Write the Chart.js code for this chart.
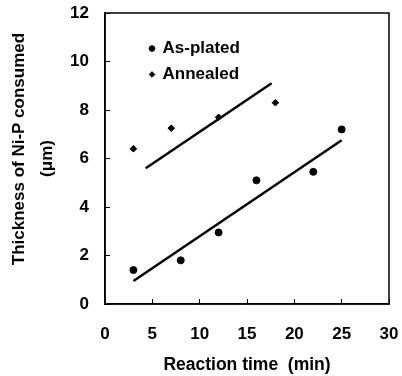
<!DOCTYPE html>
<html lang="en">
<head>
    <meta charset="UTF-8">
    <title>Thickness of Ni-P consumed vs reaction time</title>
    <script src="https://cdn.jsdelivr.net/npm/chart.js"></script>
    <style>
        body {
            margin: 0;
            background-color: #ffffff;
        }
    </style>
</head>
<body>
    <canvas id="thicknessChart" width="402" height="376"></canvas>

    <script>
        // measured points
        const timeAsPlated = [3, 8, 12, 16, 22, 25];
        const thickAsPlated = [1.4, 1.8, 2.95, 5.1, 5.45, 7.2];
        const timeAnnealed = [3, 7, 12, 18];
        const thickAnnealed = [6.4, 7.25, 7.7, 8.3];

        // fitted lines (end points)
        const fitAsPlatedX = [3, 25];
        const fitAsPlatedY = [0.95, 6.75];
        const fitAnnealedX = [4.3, 17.6];
        const fitAnnealedY = [5.6, 9.1];

        const xTicks = [0, 5, 10, 15, 20, 25, 30];
        const yTicks = [0, 2, 4, 6, 8, 10, 12];

        const toPoints = (xs, ys) => xs.map((x, i) => ({ x: x, y: ys[i] }));

        const fontFamily = "'Liberation Sans', Arial, sans-serif";

        // box around the plot area
        const frame = {
            id: 'frame',
            afterDraw(chart) {
                const { ctx, chartArea } = chart;
                ctx.save();
                ctx.strokeStyle = '#000';
                ctx.lineWidth = 1.5;
                ctx.strokeRect(chartArea.left, chartArea.top,
                    chartArea.right - chartArea.left, chartArea.bottom - chartArea.top);
                ctx.restore();
            }
        };

        // put the legend inside the plot, near its top left corner
        const legendOffset = {
            id: 'legendOffset',
            afterLayout(chart) {
                chart.legend.left = chart.chartArea.left + 36;
                chart.legend.top = chart.chartArea.top + 18;
            }
        };

        const chart = new Chart(document.getElementById('thicknessChart'), {
            type: 'scatter',
            data: {
                datasets: [
                    {
                        label: 'As-plated',
                        data: toPoints(timeAsPlated, thickAsPlated),
                        pointStyle: 'circle',
                        pointRadius: 3.5,
                        backgroundColor: '#000',
                        borderColor: '#000'
                    },
                    {
                        label: 'Annealed',
                        data: toPoints(timeAnnealed, thickAnnealed),
                        pointStyle: 'rectRot',
                        pointRadius: 3.3,
                        backgroundColor: '#000',
                        borderColor: '#000'
                    },
                    {
                        label: 'fit-as-plated',
                        data: toPoints(fitAsPlatedX, fitAsPlatedY),
                        showLine: true,
                        pointRadius: 0,
                        borderWidth: 2.5,
                        borderColor: '#000'
                    },
                    {
                        label: 'fit-annealed',
                        data: toPoints(fitAnnealedX, fitAnnealedY),
                        showLine: true,
                        pointRadius: 0,
                        borderWidth: 2.5,
                        borderColor: '#000'
                    }
                ]
            },
            options: {
                responsive: false,
                animation: false,
                layout: {
                    padding: { top: 13, right: 13, left: 0, bottom: 0 }
                },
                plugins: {
                    tooltip: { enabled: false },
                    legend: {
                        position: 'chartArea',
                        align: 'start',
                        labels: {
                            filter: item => item.text.indexOf('fit') !== 0,
                            usePointStyle: true,
                            boxWidth: 4,
                            boxHeight: 4,
                            padding: 9,
                            color: '#000',
                            font: { family: fontFamily, size: 17, weight: 'bold' }
                        }
                    }
                },
                scales: {
                    x: {
                        type: 'linear',
                        min: 0,
                        max: 30,
                        afterBuildTicks: scale => { scale.ticks = xTicks.map(v => ({ value: v })); },
                        afterFit: scale => {
                            scale.height = 72;
                            scale.paddingLeft = 0;
                            scale.paddingRight = 0;
                        },
                        border: { display: true, color: '#000', width: 1.5 },
                        grid: { drawOnChartArea: false, tickLength: -5, color: '#000', lineWidth: 1 },
                        ticks: {
                            padding: 25,
                            color: '#000',
                            font: { family: fontFamily, size: 17, weight: 'bold' }
                        },
                        title: {
                            display: true,
                            text: 'Reaction time  (min)',
                            color: '#000',
                            padding: { top: 0, bottom: 0 },
                            font: { family: fontFamily, size: 17.5, weight: 'bold' }
                        }
                    },
                    y: {
                        type: 'linear',
                        min: 0,
                        max: 12,
                        afterBuildTicks: scale => { scale.ticks = yTicks.map(v => ({ value: v })); },
                        afterFit: scale => {
                            scale.width = 105;
                            scale.paddingTop = 0;
                            scale.paddingBottom = 0;
                        },
                        border: { display: true, color: '#000', width: 1.5 },
                        grid: { drawOnChartArea: false, tickLength: -5, color: '#000', lineWidth: 1 },
                        ticks: {
                            padding: 21,
                            color: '#000',
                            font: { family: fontFamily, size: 17, weight: 'bold' }
                        },
                        title: {
                            display: true,
                            text: ['    Thickness of Ni-P consumed', '(\u03bcm)'],
                            color: '#000',
                            padding: { top: 5, bottom: 0 },
                            font: { family: fontFamily, size: 17, weight: 'bold', lineHeight: '28px' }
                        }
                    }
                }
            },
            plugins: [frame, legendOffset]
        });
    </script>
</body>
</html>
